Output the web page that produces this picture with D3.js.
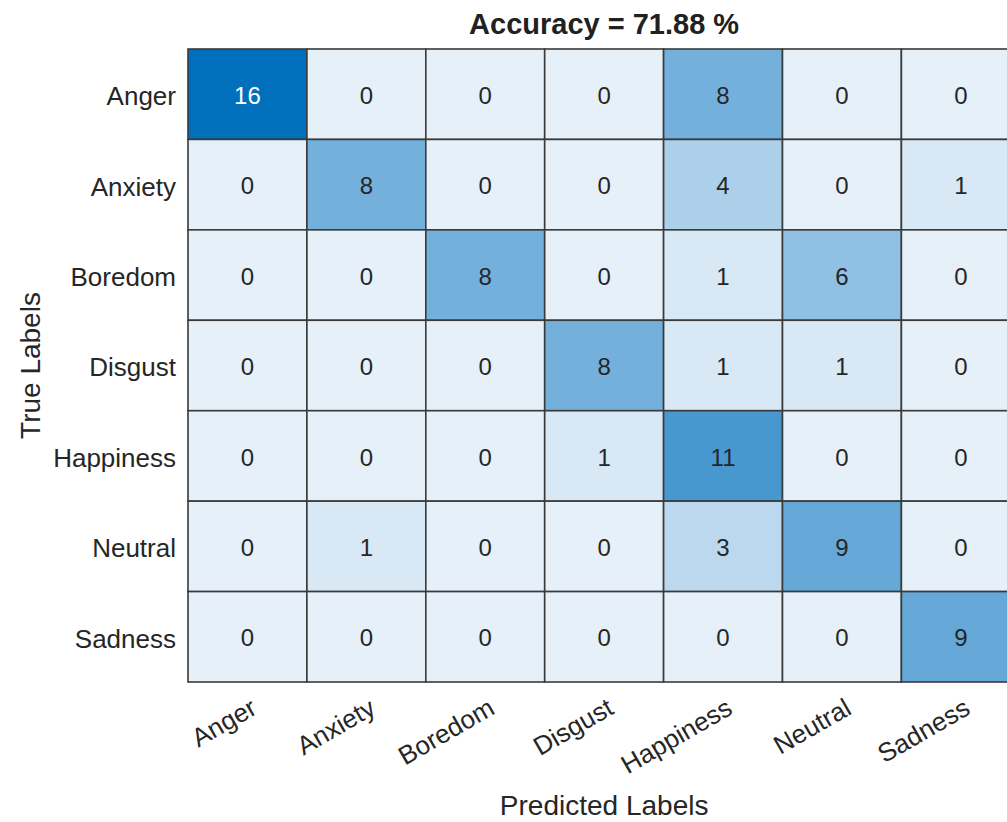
<!DOCTYPE html>
<html>
<head>
<meta charset="utf-8">
<script src="https://cdn.jsdelivr.net/npm/d3@7"></script>
<style>
  html, body { margin: 0; padding: 0; background: #fff; overflow: hidden; }
  svg { display: block; font-family: "Liberation Sans", Arial, Helvetica, sans-serif; }
</style>
</head>
<body>
<script>
const trueLabels = ["Anger", "Anxiety", "Boredom", "Disgust", "Happiness", "Neutral", "Sadness"];
const predictedLabels = ["Anger", "Anxiety", "Boredom", "Disgust", "Happiness", "Neutral", "Sadness"];
const counts = [
  [16, 0, 0, 0, 8, 0, 0],
  [0, 8, 0, 0, 4, 0, 1],
  [0, 0, 8, 0, 1, 6, 0],
  [0, 0, 0, 8, 1, 1, 0],
  [0, 0, 0, 1, 11, 0, 0],
  [0, 1, 0, 0, 3, 9, 0],
  [0, 0, 0, 0, 0, 0, 9]
];
const titleText = "Accuracy = 71.88 %";
const xLabelText = "Predicted Labels";
const yLabelText = "True Labels";

const W = 1007, H = 822;
const gLeft = 188, gTop = 49, cellW = 118.9, gBottom = 682;

const svg = d3.select("body").append("svg").attr("width", W).attr("height", H);

const x = d3.scaleBand().domain(predictedLabels).range([gLeft, gLeft + cellW * predictedLabels.length]).padding(0);
const y = d3.scaleBand().domain(trueLabels).range([gTop, gBottom]).padding(0);

const maxVal = d3.max(counts.flat());
const color = d3.scaleLinear().domain([0, maxVal]).range(["#E6F0F9", "#0070BD"]).interpolate(d3.interpolateRgb);

const cells = [];
counts.forEach((row, i) => row.forEach((v, j) => cells.push({ t: trueLabels[i], p: predictedLabels[j], v })));

const g = svg.append("g");
g.selectAll("rect.cell").data(cells).enter().append("rect")
  .attr("class", "cell")
  .attr("x", d => x(d.p)).attr("y", d => y(d.t))
  .attr("width", x.bandwidth()).attr("height", y.bandwidth())
  .attr("fill", d => color(d.v))
  .attr("stroke", "#3a3a3a").attr("stroke-width", 1.6);

g.selectAll("text.val").data(cells).enter().append("text")
  .attr("class", "val")
  .attr("x", d => x(d.p) + x.bandwidth() / 2)
  .attr("y", d => y(d.t) + y.bandwidth() / 2)
  .attr("text-anchor", "middle").attr("dy", "0.4em")
  .attr("font-size", 24)
  .attr("fill", d => d.v / maxVal > 0.85 ? "#ffffff" : "#262626")
  .text(d => d.v);

// Y axis tick labels
const yAxis = d3.axisLeft(y).tickSize(0).tickPadding(12);
const yg = svg.append("g").attr("transform", `translate(${gLeft},0)`).call(yAxis);
yg.select(".domain").remove();
yg.selectAll("text").attr("font-size", 26).attr("fill", "#262626").attr("font-family", null)
  .attr("dy", "0.42em");

// X axis tick labels rotated
const xAxis = d3.axisBottom(x).tickSize(0).tickPadding(0);
const xg = svg.append("g").attr("transform", `translate(0,${gBottom})`).call(xAxis);
xg.select(".domain").remove();
xg.selectAll("text")
  .attr("font-size", 26).attr("fill", "#262626").attr("font-family", null)
  .attr("text-anchor", "end")
  .attr("y", null).attr("dy", null)
  .attr("transform", "translate(11,31) rotate(-30)");

// Title
svg.append("text").attr("x", gLeft + cellW * 3.5).attr("y", 34)
  .attr("text-anchor", "middle").attr("font-size", 29).attr("font-weight", "bold").attr("fill", "#212121")
  .text(titleText);

// Axis labels
svg.append("text").attr("x", gLeft + cellW * 3.5).attr("y", 815)
  .attr("text-anchor", "middle").attr("font-size", 28).attr("fill", "#262626")
  .text(xLabelText);
svg.append("text").attr("transform", `translate(40,${(gTop + gBottom) / 2}) rotate(-90)`)
  .attr("text-anchor", "middle").attr("font-size", 28).attr("fill", "#262626")
  .text(yLabelText);
</script>
</body>
</html>
